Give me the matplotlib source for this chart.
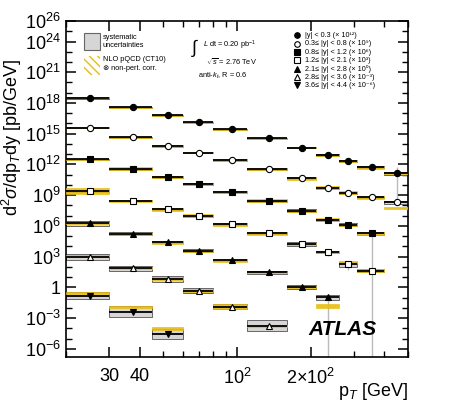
import matplotlib
matplotlib.use("Agg")
import matplotlib.pyplot as plt
import numpy as np
from matplotlib.patches import Rectangle
from matplotlib.ticker import FixedLocator, NullFormatter

plt.rcParams["font.family"] = ["Liberation Sans", "DejaVu Sans"]
plt.rcParams["mathtext.fontset"] = "custom"
plt.rcParams["mathtext.rm"] = "Liberation Sans"
plt.rcParams["mathtext.it"] = "Liberation Sans:italic"
plt.rcParams["mathtext.bf"] = "Liberation Sans:bold"

# --- data (log10 of scaled d2sigma/dpTdy in pb/GeV) ---
pt_edges = [20, 30, 45, 60, 80, 110, 160, 210, 260, 310, 400, 500]

s1 = [18.5, 17.58, 16.8, 16.1, 15.43, 14.56, 13.64, 12.9, 12.34, 11.79, 11.14]
s2 = [15.6, 14.65, 13.8, 13.15, 12.44, 11.53, 10.65, 9.74, 9.25, 8.8, 8.3]
s3 = [12.5, 11.56, 10.75, 10.07, 9.33, 8.44, 7.5, 6.59, 6.1, 5.29]
s4 = [9.41, 8.47, 7.63, 6.98, 6.17, 5.29, 4.24, 3.45, 2.26, 1.64]
s5 = [6.26, 5.22, 4.41, 3.56, 2.65, 1.45, 0.02, -0.96]
s6 = [2.95, 1.87, 0.8, -0.31, -1.87, -3.73]
s7 = [-0.8, -2.36, -4.54]

# systematic half-width (decades)
sys1 = [0.08, 0.06, 0.06, 0.06, 0.06, 0.06, 0.08, 0.08, 0.1, 0.1, 0.15]
sys2 = [0.06, 0.06, 0.06, 0.06, 0.08, 0.1, 0.1, 0.1, 0.1, 0.12, 0.15]
sys3 = [0.06, 0.08, 0.12, 0.08, 0.1, 0.1, 0.15, 0.12, 0.15, 0.15]
sys4 = [0.1, 0.08, 0.1, 0.1, 0.1, 0.12, 0.2, 0.1, 0.25, 0.15]
sys5 = [0.25, 0.15, 0.1, 0.15, 0.1, 0.1, 0.2, 0.25]
sys6 = [0.3, 0.25, 0.3, 0.25, 0.2, 0.5]
sys7 = [0.3, 0.5, 0.5]

# NLO theory: log10(theory/data) and half-width (decades)
th1 = [0, 0, 0, 0, 0, 0, 0, 0, 0, -0.15, 0]
th2 = [0, 0, 0, 0, 0, 0, 0, 0, 0, 0, -0.55]
th3 = [0, 0, 0, 0, 0, 0, 0, 0, 0, 0]
th4 = [0, 0, 0, 0, 0, 0, 0, 0, 0.2, 0]
th5 = [0, 0, 0, 0, 0, 0, 0, -0.85]
th6 = [0.15, 0, 0.1, 0, 0, 0]
th7 = [0.25, 0.45, 0.5]

thw1 = [0.04, 0.04, 0.04, 0.04, 0.05, 0.06, 0.06, 0.06, 0.06, 0.08, 0.06]
thw2 = [0.04, 0.04, 0.05, 0.05, 0.08, 0.12, 0.15, 0.15, 0.15, 0.15, 0.08]
thw3 = [0.05, 0.15, 0.12, 0.06, 0.08, 0.15, 0.1, 0.15, 0.12, 0.15]
thw4 = [0.28, 0.1, 0.15, 0.15, 0.15, 0.15, 0.12, 0.1, 0.08, 0.18]
thw5 = [0.1, 0.08, 0.15, 0.08, 0.15, 0.06, 0.1, 0.2]
thw6 = [0.06, 0.1, 0.15, 0.12, 0.25, 0.1]
thw7 = [0.08, 0.06, 0.15]

# statistical errors that are visible: (series, bin, down, up) in decades
stat_bars = [(0, 10, 2.9, 0.6), (2, 9, 3.4, 0.0), (3, 9, 20, 0.0),
             (3, 7, 0.4, 0.0), (3, 8, 0.6, 0.0), (4, 7, 20, 0.0)]

series = [s1, s2, s3, s4, s5, s6, s7]
sys_all = [sys1, sys2, sys3, sys4, sys5, sys6, sys7]
th_all = [th1, th2, th3, th4, th5, th6, th7]
thw_all = [thw1, thw2, thw3, thw4, thw5, thw6, thw7]
markers = ["o", "o", "s", "s", "^", "^", "v"]
filled = [True, False, True, False, True, False, True]
labels = ["|y| < 0.3 (× 10¹²)",
          "0.3≤ |y| < 0.8 (× 10⁹)",
          "0.8≤ |y| < 1.2 (× 10⁶)",
          "1.2≤ |y| < 2.1 (× 10³)",
          "2.1≤ |y| < 2.8 (× 10⁰)",
          "2.8≤ |y| < 3.6 (× 10⁻³)",
          "3.6≤ |y| < 4.4 (× 10⁻⁶)"]

YELLOW = "#e8bd10"
GRAY = "#d6d6d6"

fig = plt.figure(figsize=(4.74, 4.05), dpi=100)
ax = fig.add_axes([0.139, 0.1185, 0.722, 0.8296])
ax.set_xscale("log")
ax.set_yscale("log")
ymin, ymax = 10**-6.8, 1e26
ax.set_xlim(20, 500)
ax.set_ylim(ymin, ymax)

edges = np.array(pt_edges, dtype=float)
centers = 0.5 * (edges[:-1] + edges[1:])

for k, vals in enumerate(series):
    n = len(vals)
    v = np.array(vals)
    lo = edges[:n]
    hi = edges[1:n + 1]
    xc = centers[:n]
    s = np.array(sys_all[k])
    t = v + np.array(th_all[k])
    tw = np.array(thw_all[k])
    # systematic boxes
    ax.bar(lo, 10**(v + s) - 10**(v - s), width=hi - lo, bottom=10**(v - s),
           align="edge", color=GRAY, edgecolor="#666666", linewidth=0.7, zorder=2)
    # theory bands
    ax.bar(lo, 10**(t + tw) - 10**(t - tw), width=hi - lo, bottom=10**(t - tw),
           align="edge", color=YELLOW, edgecolor=YELLOW, linewidth=0.5,
           alpha=0.9, zorder=3)
    ax.errorbar(xc, 10**v, xerr=[xc - lo, hi - xc], fmt="none",
                ecolor="black", elinewidth=1.3, capsize=0, zorder=4)
    ax.plot(xc, 10**v, linestyle="none", marker=markers[k], markersize=4.5,
            markerfacecolor="black" if filled[k] else "white",
            markeredgecolor="black", markeredgewidth=0.8, zorder=5)

for k, i, dn, up in stat_bars:
    v = series[k][i]
    ax.vlines(centers[i], max(10**(v - dn), ymin), 10**(v + up),
              color="#bbbbbb", linewidth=1.0, zorder=1)

# axes style
for sp in ax.spines.values():
    sp.set_linewidth(1.2)
ax.tick_params(which="both", direction="in", top=True, right=True)
ax.tick_params(which="major", length=7, width=1.1, labelsize=13)
ax.tick_params(which="minor", length=4, width=1.0)

ylab_pos = [26, 24, 21, 18, 15, 12, 9, 6, 3, 0, -3, -6]
ax.yaxis.set_major_locator(FixedLocator([10.0**p for p in ylab_pos]))
ax.set_yticklabels(["1" if p == 0 else r"$10^{%d}$" % p for p in ylab_pos])
ax.yaxis.set_minor_locator(FixedLocator([10.0**p for p in range(-6, 27)]))
ax.yaxis.set_minor_formatter(NullFormatter())

xmaj = [30, 40, 100, 200]
ax.xaxis.set_major_locator(FixedLocator(xmaj))
ax.set_xticklabels(["30", "40", r"$10^{2}$", r"$2{\times}10^{2}$"])
ax.xaxis.set_minor_locator(FixedLocator([20, 50, 60, 70, 80, 90, 300, 400, 500]))
ax.xaxis.set_minor_formatter(NullFormatter())
ax.tick_params(axis="x", pad=8)

ax.set_ylabel(r"d$^2\sigma$/dp$_T$dy [pb/GeV]", fontsize=13)
ax.yaxis.set_label_coords(-0.122, 0.655)
ax.set_xlabel(r"p$_T$ [GeV]", fontsize=13)
ax.xaxis.set_label_coords(1.0, -0.07)
ax.xaxis.label.set_horizontalalignment("right")

# left legend (uncertainty boxes)
ax.add_patch(Rectangle((0.053, 0.915), 0.047, 0.05, transform=ax.transAxes,
                       facecolor=GRAY, edgecolor="#666666", linewidth=0.8))
hatch_box = Rectangle((0.053, 0.84), 0.047, 0.055, transform=ax.transAxes,
                      facecolor="white", edgecolor=YELLOW, linewidth=0,
                      hatch="\\\\\\\\")
ax.add_patch(hatch_box)
ax.text(0.108, 0.952, "systematic", transform=ax.transAxes, fontsize=5.3, va="center")
ax.text(0.108, 0.926, "uncertainties", transform=ax.transAxes, fontsize=5.3, va="center")
ax.text(0.108, 0.885, "NLO pQCD (CT10)", transform=ax.transAxes, fontsize=5.3, va="center")
ax.text(0.108, 0.86, "⊗ non-pert. corr.", transform=ax.transAxes, fontsize=5.3, va="center")

# run info
ax.text(0.365, 0.92, r"$\int$", transform=ax.transAxes, fontsize=13, va="center")
ax.text(0.4, 0.928, r"$L$ dt = 0.20 pb$^{-1}$", transform=ax.transAxes, fontsize=5.3, va="center")
ax.text(0.41, 0.88, r"$\sqrt{s}$ = 2.76 TeV", transform=ax.transAxes, fontsize=5.3, va="center")
ax.text(0.385, 0.838, r"anti-$k_t$, R = 0.6", transform=ax.transAxes, fontsize=5.3, va="center")

# rapidity legend
for k in range(7):
    yk = 0.957 - k * 0.0248
    ax.plot([0.675], [yk], transform=ax.transAxes, linestyle="none",
            marker=markers[k], markersize=4,
            markerfacecolor="black" if filled[k] else "white",
            markeredgecolor="black", markeredgewidth=0.8, clip_on=False)
    ax.text(0.7, yk, labels[k], transform=ax.transAxes, fontsize=5.2, va="center")

ax.text(0.71, 0.065, "ATLAS", transform=ax.transAxes, fontsize=15,
        fontweight="bold", fontstyle="italic")

fig.savefig("out.png", dpi=100)
